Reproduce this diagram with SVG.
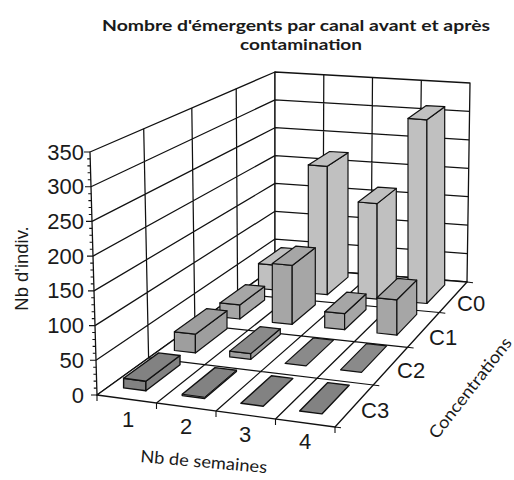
<svg xmlns="http://www.w3.org/2000/svg" width="514" height="480" viewBox="0 0 514 480">
<style>
.wall{fill:#ffffff;stroke:#111;stroke-width:1.3;stroke-linejoin:round}
.grid{fill:none;stroke:#111;stroke-width:1.25}
.tick{fill:none;stroke:#111;stroke-width:1.1}
.bar polygon{stroke:#111;stroke-width:1.2;stroke-linejoin:round}
.c0 polygon{fill:#c0c0c0}
.c1 polygon{fill:#a6a6a6}
.c2 polygon{fill:#9e9e9e}
.c2 polygon.flat{fill:#8a8a8a}
.c3 polygon{fill:#828282;stroke-width:1.4}
.num{font-family:"Liberation Sans",Arial,sans-serif;font-size:22px;fill:#1a1a1a}
.lab{font-family:Lato,"Open Sans",sans-serif;font-size:17px;fill:#1a1a1a}
.title{font-family:Lato,"Open Sans",sans-serif;font-size:16px;font-weight:700;fill:#1a1a1a}
</style>

<g id="title">
<text class="title" x="102" y="31" textLength="388" lengthAdjust="spacingAndGlyphs">Nombre d'émergents par canal avant et après</text>
<text class="title" x="240" y="50" textLength="122" lengthAdjust="spacingAndGlyphs">contamination</text>
</g>

<g id="walls">
<polygon class="wall" points="97,395 90,152 275,72 275,267"/>
<polygon class="wall" points="275,267 275,72 470,83 467,282"/>
<polygon class="wall" points="97,395 335,427 467,282 275,267"/>
<path class="grid" d="M96,360.3L275,239.1M95,325.6L275,211.3M94,290.9L275,183.4M93,256.1L275,155.6M92,221.4L275,127.7M91,186.7L275,99.9
M143.7,128.8L148.6,357.9M191.8,108L194.9,324.6M236.2,88.8L237.6,293.9
M275,239.1L467.4,253.6M275,211.3L467.9,225.1M275,183.4L468.3,196.7M275,155.6L468.7,168.3M275,127.7L469.1,139.9M275,99.9L469.6,111.4
M323.8,74.8L323,270.8M372.5,77.5L371,274.5M421.3,80.3L419,278.3"/>
</g>

<g id="floor-grid">
<path class="grid" d="M156.5,403L323,270.8M216,411L371,274.5M275.5,419L419,278.3
M148.6,357.9L373.3,385M194.9,324.6L407.6,347.3M237.6,293.9L439.3,312.5"/>
<path class="tick" d="M97,395v6M156.5,403v6M216,411v6M275.5,419v6M335,427v6
M335,427l6,0.7M373.3,385l6,0.7M407.6,347.3l6,0.7M439.3,312.5l6,0.7M467,282l6,0.7"/>
</g>

<g id="bars">
<g id="bar-C0-1" class="bar c0">
<polygon points="258.5,288.5 277.4,290.2 277.4,265.3 258.5,263.6"/>
<polygon points="277.4,290.2 299.6,273.2 299.6,249 277.4,265.3"/>
<polygon points="258.5,263.6 277.4,265.3 299.6,249 281.3,247.6"/>
</g>
<g id="bar-C0-2" class="bar c0">
<polygon points="308.3,293 327.3,294.7 327.3,166.3 308.3,164.9"/>
<polygon points="327.3,294.7 348,277.1 348,152.7 327.3,166.3"/>
<polygon points="308.3,164.9 327.3,166.3 348,152.7 329.6,151.5"/>
</g>
<g id="bar-C0-3" class="bar c0">
<polygon points="358.2,297.4 377.1,299.1 377.1,203.6 358.2,202"/>
<polygon points="377.1,299.1 396.3,281 396.3,188.4 377.1,203.6"/>
<polygon points="358.2,202 377.1,203.6 396.3,188.4 378,187.1"/>
</g>
<g id="bar-C0-4" class="bar c0">
<polygon points="408,301.8 426.9,303.5 426.9,119.8 408,118.4"/>
<polygon points="426.9,303.5 444.7,284.9 444.7,106.7 426.9,119.8"/>
<polygon points="408,118.4 426.9,119.8 444.7,106.7 426.3,105.6"/>
</g>

<g id="bar-C1-1" class="bar c1">
<polygon points="219.9,316.9 239.8,319 239.8,304.9 219.9,302.9"/>
<polygon points="239.8,319 264.6,300 264.6,286.4 239.8,304.9"/>
<polygon points="219.9,302.9 239.8,304.9 264.6,286.4 245.3,284.7"/>
</g>
<g id="bar-C1-2" class="bar c1">
<polygon points="272.3,322.3 292.2,324.3 292.2,265.4 272.3,263.5"/>
<polygon points="292.2,324.3 315.3,304.8 315.3,247.8 292.2,265.4"/>
<polygon points="272.3,263.5 292.2,265.4 315.3,247.8 296,246.1"/>
</g>
<g id="bar-C1-3" class="bar c1">
<polygon points="324.7,327.7 344.6,329.7 344.6,313.7 324.7,311.7"/>
<polygon points="344.6,329.7 366,309.5 366,294 344.6,313.7"/>
<polygon points="324.7,311.7 344.6,313.7 366,294 346.7,292.2"/>
</g>
<g id="bar-C1-4" class="bar c1">
<polygon points="377,333 396.9,335.1 396.9,299.8 377,297.8"/>
<polygon points="396.9,335.1 416.7,314.3 416.7,280.1 396.9,299.8"/>
<polygon points="377,297.8 396.9,299.8 416.7,280.1 397.5,278.4"/>
</g>

<g id="bar-C2-1" class="bar c2">
<polygon points="174.4,350.5 195.4,352.9 195.4,334.2 174.4,331.8"/>
<polygon points="195.4,352.9 227,328.8 227,310.8 195.4,334.2"/>
<polygon points="174.4,331.8 195.4,334.2 227,310.8 206.8,308.6"/>
</g>
<g id="bar-C2-2" class="bar c2">
<polygon points="229.7,356.9 250.8,359.4 250.8,353.6 229.7,351.1"/>
<polygon points="250.8,359.4 280.3,334.5 280.3,328.8 250.8,353.6"/>
<polygon class="flat" points="229.7,351.1 250.8,353.6 280.3,328.8 260,326.7"/>
</g>
<g id="bar-C2-3" class="bar c2">
<polygon class="flat" points="285.1,363.4 306.1,365.9 333.5,340.1 313.3,338"/>
</g>
<g id="bar-C2-4" class="bar c2">
<polygon class="flat" points="340.5,369.9 361.5,372.3 386.7,345.8 366.5,343.7"/>
</g>

<g id="bar-C3-1" class="bar c3">
<polygon points="123.6,387.9 145.9,390.8 145.9,381.2 123.6,378.3"/>
<polygon points="145.9,390.8 180,364.7 180,355.5 145.9,381.2"/>
<polygon points="123.6,378.3 145.9,381.2 180,355.5 158.6,352.9"/>
</g>
<g id="bar-C3-2" class="bar c3">
<polygon points="182.2,395.6 204.6,398.5 236.4,371.5 236.4,370.2 215,367.6 182.2,394.2"/>
<polyline points="182.2,394.2 204.6,397.2 236.4,370.2" fill="none" stroke="#111" stroke-width="1"/>
</g>
<g id="bar-C3-3" class="bar c3">
<polygon points="240.9,403.3 263.2,406.2 292.8,378.4 271.4,375.8"/>
</g>
<g id="bar-C3-4" class="bar c3">
<polygon points="299.6,411 321.9,413.9 349.2,385.3 327.8,382.6"/>
</g>
</g>

<g id="axis">
<path class="tick" d="M97,395h-6M96.8,388.1h-3M96.6,381.1h-3M96.4,374.2h-3M96.2,367.2h-3M96,360.3h-6M95.8,353.3h-3M95.6,346.4h-3M95.4,339.5h-3M95.2,332.5h-3M95,325.6h-6M94.8,318.6h-3M94.6,311.7h-3M94.4,304.7h-3M94.2,297.8h-3M94,290.9h-6M93.8,283.9h-3M93.6,277h-3M93.4,270h-3M93.2,263.1h-3M93,256.1h-6M92.8,249.2h-3M92.6,242.3h-3M92.4,235.3h-3M92.2,228.4h-3M92,221.4h-6M91.8,214.5h-3M91.6,207.5h-3M91.4,200.6h-3M91.2,193.7h-3M91,186.7h-6M90.8,179.8h-3M90.6,172.8h-3M90.4,165.9h-3M90.2,158.9h-3M90,152h-6"/>
<text class="num" text-anchor="end" x="84" y="402.5">0</text>
<text class="num" text-anchor="end" x="84" y="367.8">50</text>
<text class="num" text-anchor="end" x="84" y="333.1">100</text>
<text class="num" text-anchor="end" x="84" y="298.4">150</text>
<text class="num" text-anchor="end" x="84" y="263.6">200</text>
<text class="num" text-anchor="end" x="84" y="228.9">250</text>
<text class="num" text-anchor="end" x="84" y="194.2">300</text>
<text class="num" text-anchor="end" x="84" y="159.5">350</text>
<text class="num" style="font-size:18.5px" text-anchor="middle" transform="translate(28,268.5) rotate(-90)">Nb d'indiv.</text>
</g>

<g id="week-labels">
<text class="num" text-anchor="middle" x="128" y="427">1</text>
<text class="num" text-anchor="middle" x="186" y="434">2</text>
<text class="num" text-anchor="middle" x="245" y="442">3</text>
<text class="num" text-anchor="middle" x="305" y="449">4</text>
<text class="lab" transform="translate(140,462) rotate(5)" textLength="127" lengthAdjust="spacingAndGlyphs">Nb de semaines</text>
</g>

<g id="conc-labels">
<text class="num" x="457" y="311">C0</text>
<text class="num" x="429" y="345">C1</text>
<text class="num" x="397" y="378">C2</text>
<text class="num" x="361" y="418">C3</text>
<text class="lab" transform="translate(437,440) rotate(-52)" textLength="123" lengthAdjust="spacingAndGlyphs">Concentrations</text>
</g>
</svg>
